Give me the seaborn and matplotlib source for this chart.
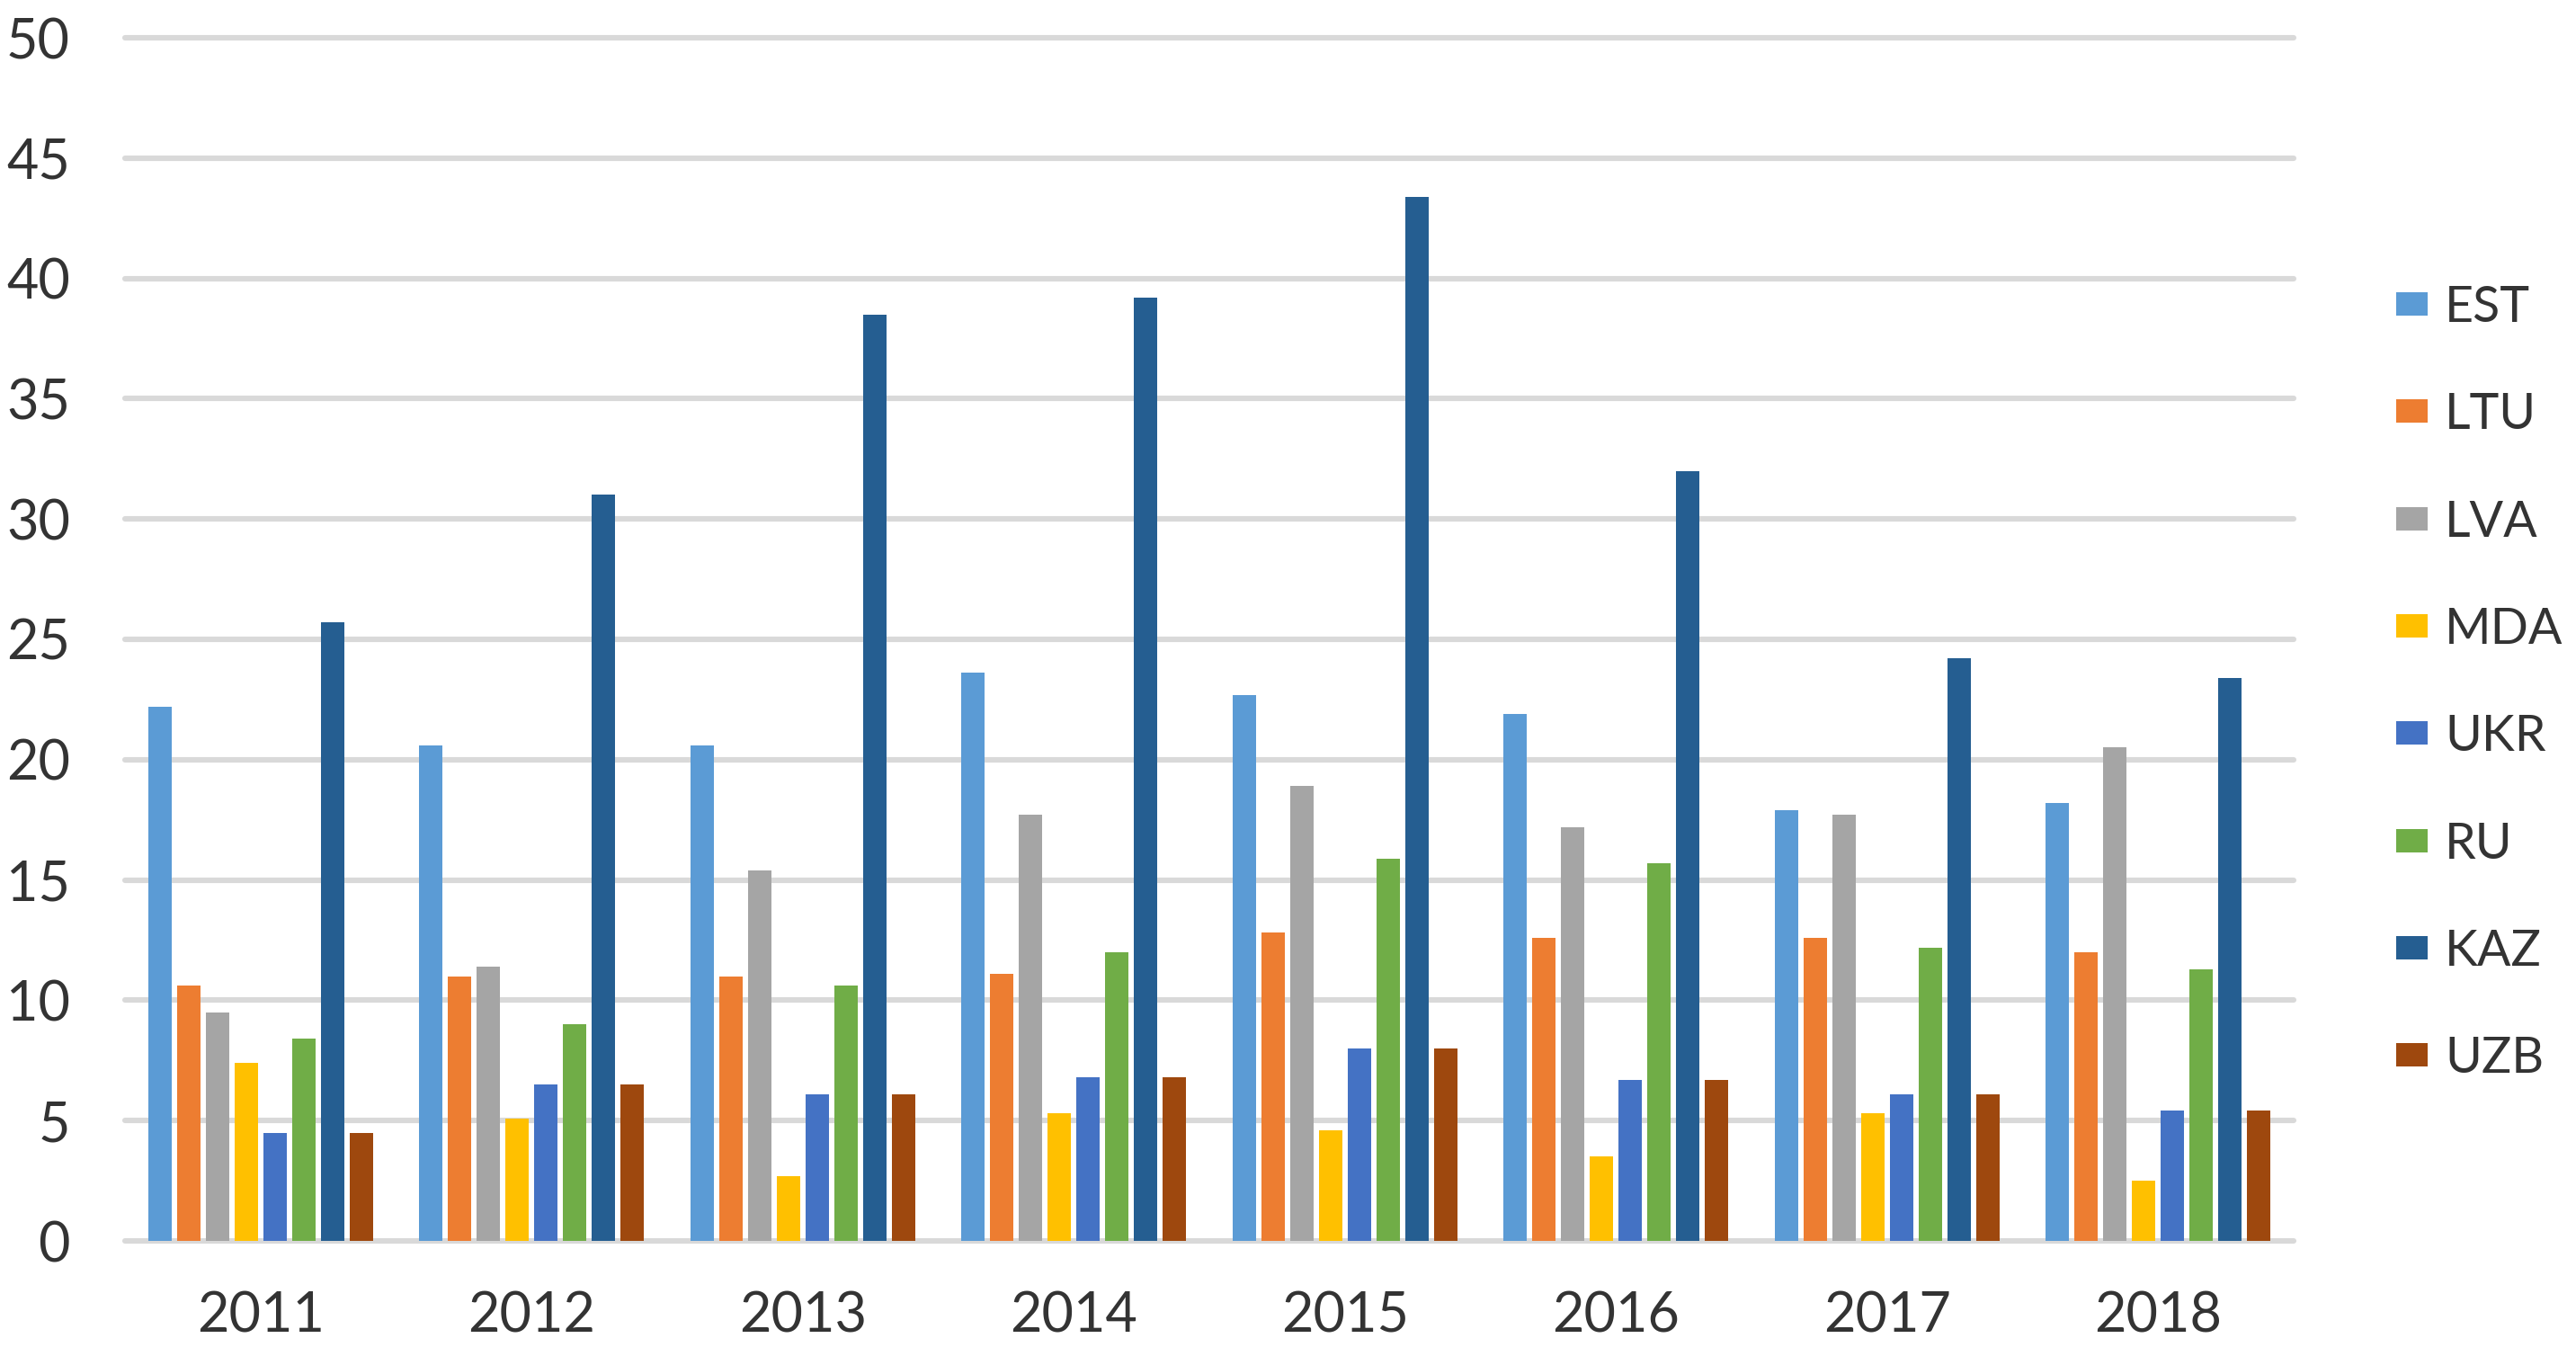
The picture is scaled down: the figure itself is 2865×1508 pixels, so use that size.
import pandas as pd
import seaborn as sns
import matplotlib.pyplot as plt


# years on the x axis
years = ['2011', '2012', '2013', '2014', '2015', '2016', '2017', '2018']

# series values, one list per country
est = [22.2, 20.6, 20.6, 23.6, 22.7, 21.9, 17.9, 18.2]
ltu = [10.6, 11.0, 11.0, 11.1, 12.8, 12.6, 12.6, 12.0]
lva = [9.5, 11.4, 15.4, 17.7, 18.9, 17.2, 17.7, 20.5]
mda = [7.4, 5.1, 2.7, 5.3, 4.6, 3.5, 5.3, 2.5]
ukr = [4.5, 6.5, 6.1, 6.8, 8.0, 6.7, 6.1, 5.4]
ru = [8.4, 9.0, 10.6, 12.0, 15.9, 15.7, 12.2, 11.3]
kaz = [25.7, 31.0, 38.5, 39.2, 43.4, 32.0, 24.2, 23.4]
uzb = [4.5, 6.5, 6.1, 6.8, 8.0, 6.7, 6.1, 5.4]

countries = ['EST', 'LTU', 'LVA', 'MDA', 'UKR', 'RU', 'KAZ', 'UZB']
colors = ['#5B9BD5', '#ED7D31', '#A5A5A5', '#FFC000',
          '#4472C4', '#70AD47', '#255E91', '#9E480E']

TEXT = '#333333'
GRID = '#D9D9D9'


def make_frame():
    '''long-form table: one row per (year, country)'''
    series = [est, ltu, lva, mda, ukr, ru, kaz, uzb]
    rows = []
    for name, vals in zip(countries, series):
        for yr, v in zip(years, vals):
            rows.append({'Year': yr, 'Country': name, 'Value': v})
    return pd.DataFrame(rows)


def plot_bars(df):
    ''' grouped bar chart, excel look'''
    fig = plt.figure(figsize=(14.325, 7.54), dpi=200)
    ax = fig.add_axes([139 / 2865, 1 - 1380 / 1508,
                       (2551 - 139) / 2865, (1380 - 42) / 1508])

    sns.barplot(data=df, x='Year', y='Value', hue='Country',
                order=years, hue_order=countries,
                palette=colors, saturation=1,
                width=0.85, gap=0.19, linewidth=0, ax=ax)

    ax.set_ylim(0, 50)
    ax.set_xlim(-0.5, len(years) - 0.5)
    ax.set_yticks(range(0, 51, 5))
    ax.set(xlabel='', ylabel='')

    # thick light grey gridlines behind the bars
    ax.set_axisbelow(True)
    ax.yaxis.grid(True, color=GRID, linewidth=2.2)
    ax.xaxis.grid(False)
    for line in ax.get_ygridlines():
        line.set_clip_on(False)
    for s in ax.spines.values():
        s.set_visible(False)

    ax.tick_params(axis='y', length=0, pad=22, labelsize=22,
                   labelcolor=TEXT)
    ax.tick_params(axis='x', length=0, pad=20, labelsize=22,
                   labelcolor=TEXT)

    # legend on the right, widely spaced
    ax.legend_.remove()
    leg = fig.legend(*ax.get_legend_handles_labels(),
                     loc='center left', bbox_to_anchor=(0.9302, 0.496),
                     frameon=False, fontsize=20, borderpad=0,
                     borderaxespad=0, handlelength=0.63,
                     handleheight=0.34, handletextpad=0.34,
                     labelspacing=1.23)
    for t in leg.get_texts():
        t.set_color(TEXT)

    fig.savefig('out.png', dpi=200)


if __name__ == '__main__':
    sns.set_style('white')
    plt.rcParams['font.family'] = ['Lato', 'DejaVu Sans']

    df = make_frame()
    plot_bars(df)
